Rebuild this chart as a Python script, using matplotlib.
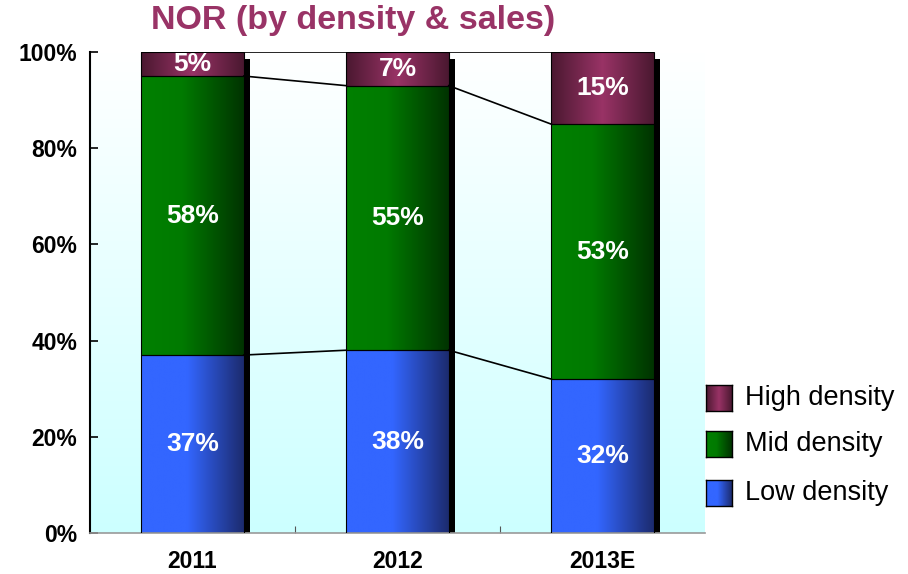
import numpy as np
import matplotlib.pyplot as plt
from matplotlib.colors import LinearSegmentedColormap
from matplotlib.patches import Rectangle
from matplotlib import transforms

plt.rcParams['font.family'] = ['Liberation Sans', 'DejaVu Sans']

years = ["2011", "2012", "2013E"]
series = ["Low density", "Mid density", "High density"]
low = [0.37, 0.38, 0.32]
mid = [0.58, 0.55, 0.53]
high = [0.05, 0.07, 0.15]
values = [low, mid, high]

cmaps = {
    "Low density": LinearSegmentedColormap.from_list(
        "low", [(0, "#3366ff"), (0.45, "#3366ff"), (1, "#1c2b6e")]),
    "Mid density": LinearSegmentedColormap.from_list(
        "mid", [(0, "#008000"), (0.4, "#007a00"), (1, "#003300")]),
    "High density": LinearSegmentedColormap.from_list(
        "high", [(0, "#4a1830"), (0.5, "#993366"), (1, "#4a1830")]),
}

fig = plt.figure(figsize=(9.08, 5.74), dpi=100)
ax = fig.add_axes([90 / 908, 41 / 574, 615 / 908, 481 / 574])

x = np.arange(len(years))
width = 0.5
grad = np.linspace(0, 1, 256).reshape(1, -1)

# background gradient
bg = LinearSegmentedColormap.from_list("bg", ["#ffffff", "#ccffff"])
ax.imshow(np.linspace(0, 1, 256).reshape(-1, 1), cmap=bg, aspect="auto",
          extent=(0, 1, 0, 1), transform=ax.transAxes, zorder=0)

# shadows
shadow_tr = transforms.offset_copy(ax.transData, fig=fig, x=6, y=-7, units="dots")
for xi in x:
    ax.add_patch(Rectangle((xi - width / 2, 0), width, 1.0, facecolor="black",
                           edgecolor="none", transform=shadow_tr, zorder=1))

bottom = np.zeros(len(years))
for name, vals in zip(series, values):
    vals = np.array(vals)
    bars = ax.bar(x, vals, width, bottom=bottom, facecolor="none",
                  edgecolor="black", linewidth=0.8, zorder=3)
    for b, v, b0 in zip(bars, vals, bottom):
        ax.imshow(grad, cmap=cmaps[name], aspect="auto", zorder=2,
                  extent=(b.get_x(), b.get_x() + b.get_width(), b0, b0 + v))
        ax.text(b.get_x() + b.get_width() / 2, b0 + v / 2, f"{v * 100:.0f}%",
                ha="center", va="center", color="white", fontsize=19,
                fontweight="bold", zorder=4)
    bottom = bottom + vals
    # series lines
    for i in range(len(x) - 1):
        ax.plot([x[i] + width / 2, x[i + 1] - width / 2], [bottom[i], bottom[i + 1]],
                color="black", lw=1.2, zorder=3)

ax.set_xlim(-0.5, len(years) - 0.5)
ax.set_ylim(0, 1)

ax.set_yticks(np.arange(0, 1.01, 0.2))
ax.set_yticklabels([f"{int(round(t * 100))}%" for t in np.arange(0, 1.01, 0.2)])
ax.tick_params(axis="y", direction="in", length=6, width=1.2, pad=9,
               labelsize=16.5)
ax.set_xticks(x[:-1] + 0.5)
ax.set_xticklabels([])
ax.set_xticks(x, minor=True)
ax.set_xticklabels(years, minor=True)
ax.tick_params(axis="x", which="major", direction="in", length=5, color="#555555")
ax.tick_params(axis="x", which="minor", length=0, pad=12, labelsize=16.5)
for lab in ax.get_yticklabels() + ax.get_xticklabels(minor=True):
    lab.set_fontweight("bold")

for s in ["top", "right"]:
    ax.spines[s].set_visible(False)
ax.spines["left"].set_linewidth(1.5)
ax.spines["bottom"].set_color("#999999")
ax.spines["bottom"].set_linewidth(1.2)

fig.text(353 / 908, 1 - 21 / 574, "NOR (by density & sales)", ha="center",
         va="center", fontsize=24.5, fontweight="bold", color="#993366")

# legend
leg_y = [398, 444, 493]
for name, yy in zip(series[::-1], leg_y):
    lax = fig.add_axes([706 / 908, 1 - (yy + 13) / 574, 26 / 908, 26 / 574])
    lax.imshow(grad, cmap=cmaps[name], aspect="auto", extent=(0, 1, 0, 1))
    lax.set_xticks([])
    lax.set_yticks([])
    for sp in lax.spines.values():
        sp.set_linewidth(1.0)
    fig.text(745 / 908, 1 - yy / 574, name, ha="left", va="center", fontsize=19.5)

fig.savefig("out.png", dpi=100)
